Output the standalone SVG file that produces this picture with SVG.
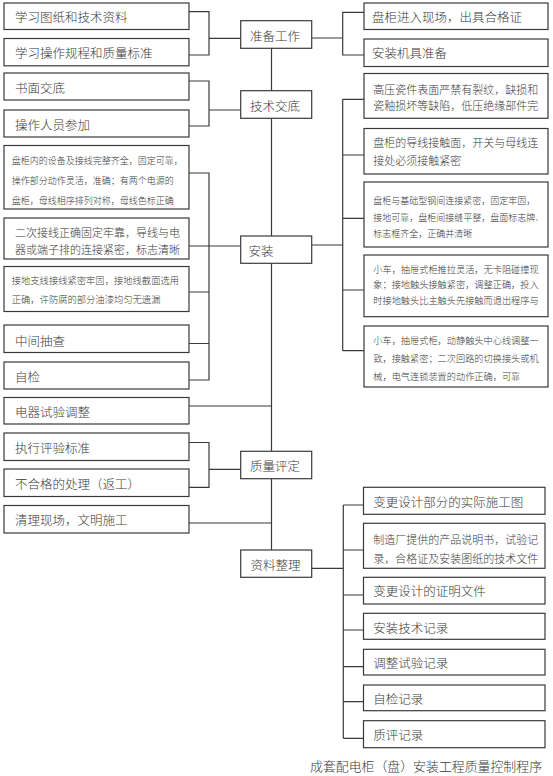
<svg xmlns="http://www.w3.org/2000/svg" width="553" height="776" viewBox="0 0 553 776">
<style>
.b{fill:#fff;stroke:#3a3a3a;stroke-width:1.2}
.t{font-family:"Noto Sans CJK SC","Noto Sans",sans-serif;fill:#3a3a3a;dominant-baseline:central;font-weight:300}
.m{font-size:12.5px}
.s11{font-size:11px}
.s9{font-size:9px}
.c{fill:none;stroke:#3a3a3a;stroke-width:1.2}
</style>
<rect width="553" height="776" fill="#fff"/>
<g id="connectors" class="c">
<path d="M189 11.7H209V55H189M209 38.3H240.7"/>
<path d="M189 81H209V126H189M209 110H240.7"/>
<path d="M189 173H209V380H189M189 246H240.7M189 292H209M189 343.5H209"/>
<path d="M189 406H271.5"/>
<path d="M189 442.5H209V487.3H189M209 469.3H240.7"/>
<path d="M189 523H271.5"/>
<path d="M271.5 48.3V90.7M271.5 118.3V236M271.5 263.3V451.3M271.5 478.7V550"/>
<path d="M311.7 38H342.7M364 12.3H342.7V55H364"/>
<path d="M342.7 99.3V350.7M342.7 99.3H364M342.7 155H364M342.7 218.3H364M342.7 290H364M342.7 350.7H364M311.7 245H342.7"/>
<path d="M343.3 505V738.3M343.3 505H363.5M343.3 550H363.5M343.3 595H363.5M343.3 630H363.5M343.3 666.7H363.5M343.3 701.7H363.5M343.3 738.3H363.5M311 568.3H343.3"/>
</g>
<g id="n-zhunbei"><rect class="b" x="240.7" y="20.7" width="71" height="27.6"/><text class="t m" x="250" y="35">准备工作</text></g>
<g id="n-jishujiaodi"><rect class="b" x="240.7" y="90.7" width="71" height="27.6"/><text class="t m" x="250" y="105">技术交底</text></g>
<g id="n-anzhuang"><rect class="b" x="240.7" y="236" width="71" height="27.3"/><text class="t m" x="248.5" y="250">安装</text></g>
<g id="n-zhiliang"><rect class="b" x="240.7" y="451.3" width="71" height="27.4"/><text class="t m" x="250" y="465.5">质量评定</text></g>
<g id="n-ziliao"><rect class="b" x="240.7" y="550" width="71" height="27.3"/><text class="t m" x="250.5" y="564">资料整理</text></g>

<g id="l1"><rect class="b" x="4" y="3" width="185" height="26.5"/><text class="t m" x="15" y="16.5">学习图纸和技术资料</text></g>
<g id="l2"><rect class="b" x="4" y="38.5" width="185" height="27.3"/><text class="t m" x="15" y="52.5">学习操作规程和质量标准</text></g>
<g id="l3"><rect class="b" x="4" y="73" width="185" height="27"/><text class="t m" x="15" y="87">书面交底</text></g>
<g id="l4"><rect class="b" x="4" y="110" width="185" height="27"/><text class="t m" x="15" y="124">操作人员参加</text></g>
<g id="l5"><rect class="b" x="4" y="145.5" width="185" height="63.5"/>
<text class="t s9" x="11.7" y="160.7">盘柜内的设备及接线完整齐全，固定可靠，</text>
<text class="t s9" x="11.7" y="180.7">操作部分动作灵活，准确；有两个电源的</text>
<text class="t s9" x="11.7" y="200">盘柜，母线相序排列对称，母线色标正确</text></g>
<g id="l6"><rect class="b" x="4" y="218" width="185" height="41"/>
<text class="t s11" x="15" y="231.5">二次接线正确固定牢靠，导线与电</text>
<text class="t s11" x="15" y="248.5">器或端子排的连接紧密，标志清晰</text></g>
<g id="l7"><rect class="b" x="4" y="266.5" width="185" height="45"/>
<text class="t" style="font-size:9.3px" x="11.7" y="279.5">接地支线接线紧密牢固，接地线截面选用</text>
<text class="t" style="font-size:9.3px" x="11.7" y="299">正确，许防腐的部分油漆均匀无遗漏</text></g>
<g id="l8"><rect class="b" x="4" y="325" width="185" height="27.5"/><text class="t m" x="15" y="340">中间抽查</text></g>
<g id="l9"><rect class="b" x="4" y="362" width="185" height="27"/><text class="t m" x="15" y="376.5">自检</text></g>
<g id="l10"><rect class="b" x="4" y="397.5" width="185" height="26.5"/><text class="t m" x="15" y="411.5">电器试验调整</text></g>
<g id="l11"><rect class="b" x="4" y="433" width="185" height="27.5"/><text class="t m" x="15" y="447.5">执行评验标准</text></g>
<g id="l12"><rect class="b" x="4" y="469" width="185" height="27.5"/><text class="t m" x="15" y="483.5">不合格的处理（返工）</text></g>
<g id="l13"><rect class="b" x="4" y="505.5" width="185" height="27.5"/><text class="t m" x="15" y="519.5">清理现场，文明施工</text></g>

<g id="r1"><rect class="b" x="364" y="3" width="184" height="26.5"/><text class="t m" x="372" y="16.5">盘柜进入现场，出具合格证</text></g>
<g id="r2"><rect class="b" x="364" y="39" width="184" height="27.5"/><text class="t m" x="372" y="52.5">安装机具准备</text></g>
<g id="r3"><rect class="b" x="364" y="73.5" width="184" height="44.8"/>
<text class="t s11" x="373.3" y="88.5">高压瓷件表面严禁有裂纹，缺损和</text>
<text class="t s11" x="373.3" y="104.5">瓷釉损坏等缺陷，低压绝缘部件完</text></g>
<g id="r4"><rect class="b" x="364" y="128.5" width="184" height="45.5"/>
<text class="t s11" x="373.3" y="141.5">盘柜的导线接触面，开关与母线连</text>
<text class="t s11" x="373.3" y="159.5">接处必须接触紧密</text></g>
<g id="r5"><rect class="b" x="364" y="182" width="184" height="65"/>
<text class="t s9" x="373.3" y="200.5">盘柜与基础型钢间连接紧密，固定牢固，</text>
<text class="t s9" x="373.3" y="217">接地可靠，盘柜间接缝平整，盘面标志牌、</text>
<text class="t s9" x="373.3" y="233.5">标志框齐全，正确并清晰</text></g>
<g id="r6"><rect class="b" x="364" y="255" width="184" height="61.7"/>
<text class="t" style="font-size:9.2px" x="373.3" y="268.5">小车，抽屉式柜推拉灵活，无卡阻碰撞现</text>
<text class="t" style="font-size:9.2px" x="373.3" y="284">象；接地触头接触紧密，调整正确，投入</text>
<text class="t" style="font-size:9.2px" x="373.3" y="299.5">时接地触头比主触头先接触而退出程序与</text></g>
<g id="r7"><rect class="b" x="364" y="326" width="184" height="61"/>
<text class="t" style="font-size:9.2px" x="373.3" y="340">小车，抽屉式柜，动静触头中心线调整一</text>
<text class="t" style="font-size:9.2px" x="373.3" y="358">致，接触紧密；二次回路的切换接头或机</text>
<text class="t" style="font-size:9.2px" x="373.3" y="376">械，电气连锁装置的动作正确，可靠</text></g>

<g id="b1"><rect class="b" x="363.5" y="487.3" width="181.5" height="27"/><text class="t m" x="373.3" y="501">变更设计部分的实际施工图</text></g>
<g id="b2"><rect class="b" x="363.5" y="523.3" width="181.5" height="45"/>
<text class="t s11" x="373.3" y="538.5">制造厂提供的产品说明书，试验记</text>
<text class="t s11" x="373.3" y="557.5">录，合格证及安装图纸的技术文件</text></g>
<g id="b3"><rect class="b" x="363.5" y="577.3" width="181.5" height="26.7"/><text class="t m" x="373.3" y="590.5">变更设计的证明文件</text></g>
<g id="b4"><rect class="b" x="363.5" y="613.3" width="181.5" height="26"/><text class="t m" x="373.3" y="627">安装技术记录</text></g>
<g id="b5"><rect class="b" x="363.5" y="649.3" width="181.5" height="25.7"/><text class="t m" x="373.3" y="662.5">调整试验记录</text></g>
<g id="b6"><rect class="b" x="363.5" y="685" width="181.5" height="25.7"/><text class="t m" x="373.3" y="698.5">自检记录</text></g>
<g id="b7"><rect class="b" x="363.5" y="720.7" width="181.5" height="27"/><text class="t m" x="373.3" y="734.5">质评记录</text></g>

<text class="t" style="font-size:12.9px" x="310" y="765">成套配电柜（盘）安装工程质量控制程序</text>
</svg>
